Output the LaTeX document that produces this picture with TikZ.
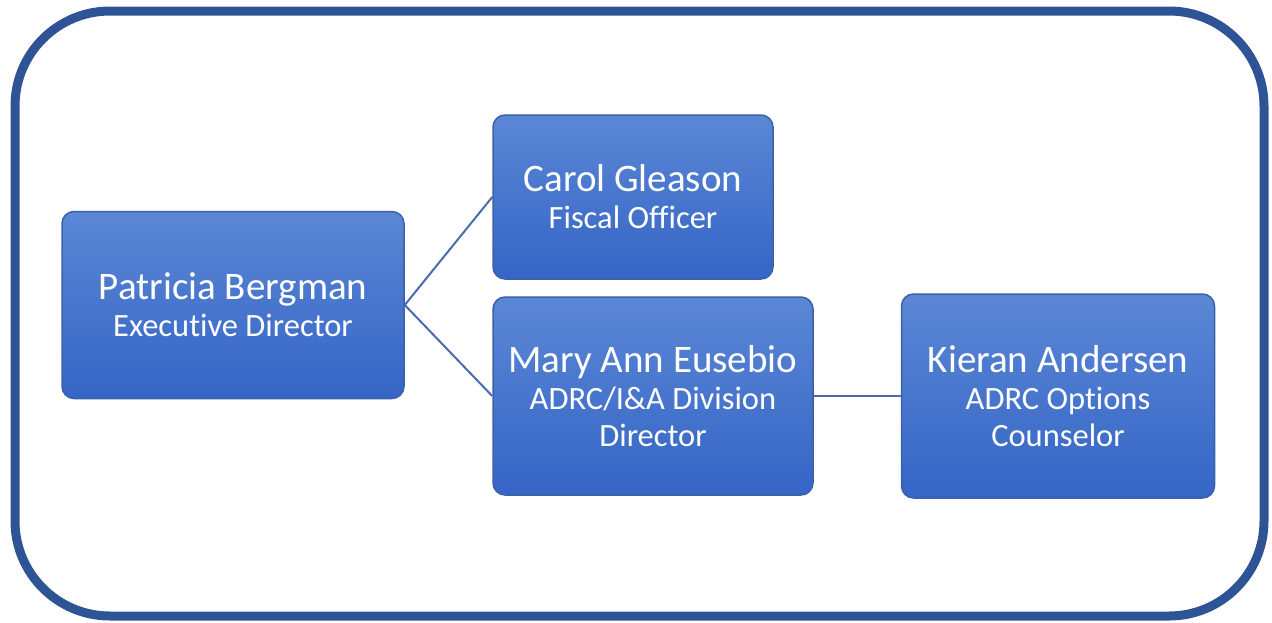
\documentclass[tikz,border=0pt]{standalone}
\usepackage{fontspec}
\setmainfont{Carlito}[Ligatures=NoCommon]
\usepackage{tikz}
\usetikzlibrary{positioning,calc}
\definecolor{palFrame}{HTML}{2F5496}
\definecolor{palBoxTop}{HTML}{5B87D5}
\definecolor{palBoxBot}{HTML}{3565C6}
\definecolor{palEdge}{HTML}{3C61AA}
\definecolor{palLink}{HTML}{4A6CAC}
\newcommand{\nameFont}{\fontsize{39}{40}\selectfont}
\newcommand{\roleFont}{\fontsize{32.5}{37}\selectfont}
\tikzset{
  personbox/.style={draw=palEdge, line width=1.5pt, rounded corners=12pt,
                    top color=palBoxTop, bottom color=palBoxBot,
                    text=white, align=center, inner sep=0pt, font=\roleFont},
  framebox/.style={draw=palFrame, line width=9pt, rounded corners=95pt},
  linkline/.style={draw=palLink, line width=2pt},
}
\begin{document}
\begin{tikzpicture}[x=1pt, y=-1pt]
\useasboundingbox (0,0) rectangle (1272,622);

%% Outer frame
\draw[framebox] (15,11) rectangle (1264,616);

%% Boxes
\node[personbox, minimum width=342pt, minimum height=187pt] (pat) at (233,305)
  {{\nameFont Patricia Bergman}\\Executive Director};
\node[personbox, minimum width=280pt, minimum height=164pt] (carol) at (633,197)
  {{\nameFont Carol Gleason}\\Fiscal Officer};
\node[personbox, minimum width=320pt, minimum height=198pt] (mary) at (653,396)
  {{\nameFont Mary Ann Eusebio}\\ADRC/I\&A Division\\Director};
\node[personbox, minimum width=313pt, minimum height=204pt] (kieran) at (1058,396)
  {{\nameFont Kieran Andersen}\\ADRC Options\\Counselor};

%% Links
\draw[linkline] (pat.east) -- (carol.west);
\draw[linkline] (pat.east) -- (mary.west);
\draw[linkline] (mary.east) -- (kieran.west);
\end{tikzpicture}
\end{document}
